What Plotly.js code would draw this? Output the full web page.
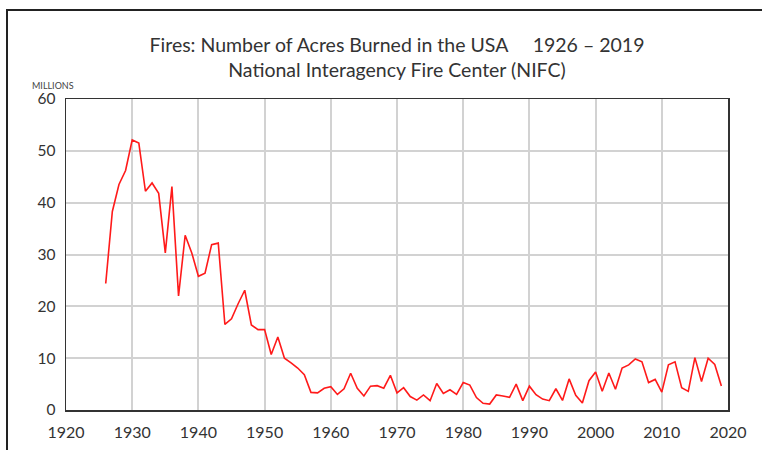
<!DOCTYPE html>
<html>
<head>
<meta charset="utf-8">
<script src="https://cdn.plot.ly/plotly-3.0.1.min.js"></script>
<style>
  html, body { margin: 0; padding: 0; background: #fff; }
  #wrap { position: relative; width: 762px; height: 450px; overflow: hidden; }
  #chart { position: absolute; left: 0; top: 0; width: 762px; height: 450px; }
  #frame { position: absolute; left: 6px; top: 9px; width: 760px; height: 445px;
           border-top: 2px solid #222; border-left: 2px solid #222; pointer-events: none; }
</style>
</head>
<body>
<div id="wrap">
  <div id="chart"></div>
  <div id="frame"></div>
</div>
<script>
// Years 1926 - 2019
const years = [];
for (let y = 1926; y <= 2019; y++) years.push(y);

// Acres burned, millions
const acresMillions = [
  24.4, 38.3, 43.5, 46.2, 52.1, 51.5, 42.2, 43.8, 41.8, 30.3, // 1926-1935
  43.1, 22.0, 33.7, 30.3, 25.8, 26.4, 31.9, 32.2, 16.5, 17.6, // 1936-1945
  20.5, 23.1, 16.4, 15.5, 15.5, 10.7, 14.1, 10.0, 9.1, 8.1,   // 1946-1955
  6.8, 3.4, 3.3, 4.2, 4.5, 3.0, 4.1, 7.1, 4.2, 2.7,          // 1956-1965
  4.6, 4.7, 4.2, 6.7, 3.3, 4.3, 2.6, 1.9, 2.9, 1.8,          // 1966-1975
  5.1, 3.2, 3.9, 3.0, 5.3, 4.8, 2.4, 1.3, 1.15, 2.9,         // 1976-1985
  2.7, 2.45, 5.0, 1.8, 4.6, 2.95, 2.1, 1.8, 4.1, 1.85,       // 1986-1995
  6.0, 2.85, 1.35, 5.65, 7.35, 3.6, 7.15, 4.0, 8.1, 8.7,     // 1996-2005
  9.85, 9.3, 5.3, 5.9, 3.45, 8.7, 9.3, 4.3, 3.6, 10.1,       // 2006-2015
  5.5, 10.0, 8.8, 4.65                                       // 2016-2019
];

const xTicks = [1920, 1930, 1940, 1950, 1960, 1970, 1980, 1990, 2000, 2010, 2020];
const yTicks = [0, 10, 20, 30, 40, 50, 60];

const titleLine1 = "Fires: Number of Acres Burned in the USA\u00a0\u00a0\u00a0\u00a0 1926 \u2013 2019";
const titleLine2 = "National Interagency Fire Center (NIFC)";
const unitLabel = "MILLIONS";

const fontFam = "Lato, 'Open Sans', sans-serif";

const trace = {
  x: years,
  y: acresMillions,
  type: "scatter",
  mode: "lines",
  line: { color: "#ff1a1a", width: 1.6 },
  hoverinfo: "x+y"
};

const layout = {
  width: 762,
  height: 450,
  margin: { l: 65.5, r: 34.3, t: 98.5, b: 40, pad: 0 },
  paper_bgcolor: "#ffffff",
  plot_bgcolor: "#ffffff",
  showlegend: false,
  font: { family: fontFam, color: "#333" },
  title: {
    text: titleLine1 + "<br>" + titleLine2,
    font: { family: fontFam, size: 19.5, color: "#333" },
    x: 0.5, xref: "paper", xanchor: "center",
    y: 1 - 52 / 450, yref: "container", yanchor: "top"
  },
  xaxis: {
    range: [1920, 2020],
    tickvals: xTicks,
    ticktext: xTicks.map(String),
    showgrid: true,
    gridcolor: "#d2d2d2",
    gridwidth: 2,
    zeroline: false,
    showline: true,
    linecolor: "#333",
    linewidth: 1.5,
    mirror: true,
    ticks: "",
    ticklabelstandoff: 7,
    tickfont: { family: fontFam, size: 16, color: "#333" },
    fixedrange: true
  },
  yaxis: {
    range: [0, 60],
    tickvals: yTicks,
    ticktext: yTicks.map(String),
    showgrid: true,
    gridcolor: "#d2d2d2",
    gridwidth: 2,
    zeroline: false,
    showline: true,
    linecolor: "#333",
    linewidth: 1.5,
    mirror: true,
    ticks: "",
    ticklabelstandoff: 6,
    tickfont: { family: fontFam, size: 15.5, color: "#333" },
    fixedrange: true
  },
  annotations: [{
    text: unitLabel,
    xref: "paper", yref: "paper",
    x: (29 - 65.5) / 662, y: (410 - 85) / 311.5,
    xanchor: "left", yanchor: "middle",
    showarrow: false,
    font: { family: fontFam, size: 9, color: "#444" }
  }]
};

Plotly.newPlot("chart", [trace], layout, { displayModeBar: false, staticPlot: true });
</script>
</body>
</html>
